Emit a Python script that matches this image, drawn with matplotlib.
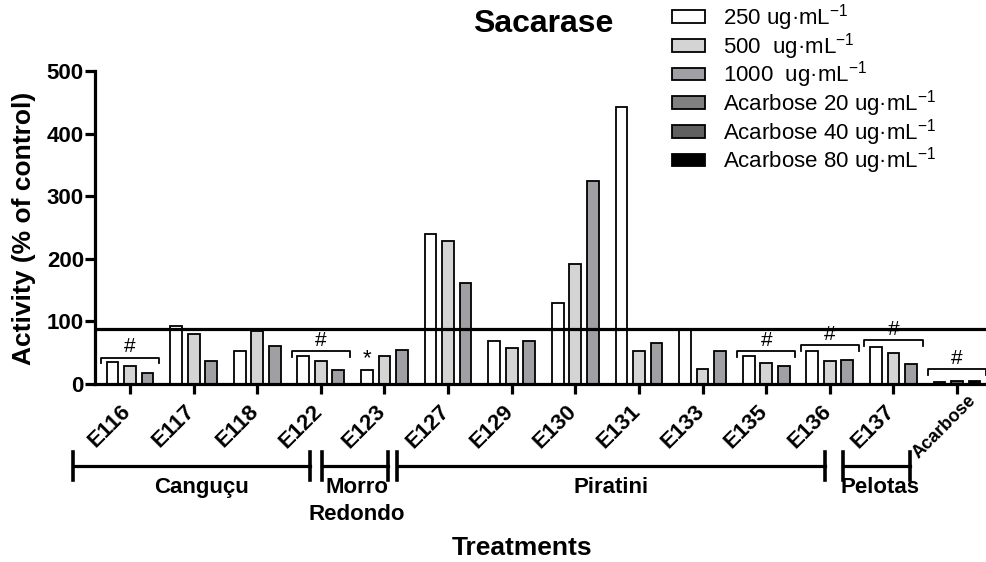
import numpy as np
import matplotlib.pyplot as plt
from matplotlib.transforms import blended_transform_factory, ScaledTranslation

# extracts tested (13) + the acarbose positive control
samples = ['E116', 'E117', 'E118', 'E122', 'E123', 'E127', 'E129',
           'E130', 'E131', 'E133', 'E135', 'E136', 'E137']
tick_labels = samples + ['Acarbose']

# activity, % of control
ext_250 = [35, 92, 52, 45, 22, 240, 68, 129, 443, 86, 45, 52, 59]
ext_500 = [29, 80, 85, 36, 45, 229, 58, 191, 53, 24, 34, 37, 49]
ext_1000 = [17, 36, 61, 22, 55, 161, 68, 324, 66, 53, 28, 39, 32]
acarbose_vals = [3, 5, 4]  # 20, 40, 80 ug/mL

control = 88

# '#' significance brackets: group index and bracket height
hash_groups = [0, 3, 10, 11, 12, 13]
hash_heights = [42, 52, 52, 62, 70, 24]
star_group = 4

# collection sites, spans given in group units
regions = ['Canguçu', 'Morro\nRedondo', 'Piratini', 'Pelotas']
region_start = [-0.9, 3.02, 4.2, 11.21]
region_end = [2.83, 4.06, 10.93, 12.26]
region_label_x = [1.13, 3.57, 7.56, 11.79]

legend_labels = ['250 ug·mL$^{-1}$', '500  ug·mL$^{-1}$', '1000  ug·mL$^{-1}$',
                 'Acarbose 20 ug·mL$^{-1}$', 'Acarbose 40 ug·mL$^{-1}$',
                 'Acarbose 80 ug·mL$^{-1}$']
colors = ['white', '#d4d4d4', '#a0a0a4', '#808080', '#606060', 'black']

plt.rcParams['font.family'] = ['Liberation Sans', 'DejaVu Sans']
plt.rcParams['mathtext.fontset'] = 'custom'
plt.rcParams['mathtext.rm'] = 'Liberation Sans'
plt.rcParams['mathtext.default'] = 'regular'

fig = plt.figure(figsize=(9.87, 5.62), dpi=100)
ax = fig.add_axes([95/987, 1 - 384/562, 1 - 95/987, (384 - 71)/562])

x = np.arange(len(samples))
w = 0.185
off = 0.275
ek = dict(edgecolor='black', linewidth=1.3, zorder=2)
bars = []
bars.append(ax.bar(x - off, ext_250, w, color=colors[0], **ek))
bars.append(ax.bar(x, ext_500, w, color=colors[1], **ek))
bars.append(ax.bar(x + off, ext_1000, w, color=colors[2], **ek))
xa = len(samples)
for i, v in enumerate(acarbose_vals):
    bars.append(ax.bar(xa + (i - 1)*off, v, w, color=colors[3 + i], **ek))

ax.axhline(control, color='black', lw=2.3, zorder=3)

# significance marks
for g, h in zip(hash_groups, hash_heights):
    ax.plot([g - 0.46, g - 0.46, g + 0.46, g + 0.46], [h - 9, h, h, h - 9],
            color='black', lw=1.3, zorder=3)
    ax.text(g, h + 2, '#', ha='center', va='bottom', fontsize=15)
ax.text(star_group - off, ext_250[star_group] + 1, '*', ha='center',
        va='bottom', fontsize=16)

ax.set_xlim(-0.55, 13.47)
ax.set_ylim(0, 500)
ax.set_yticks(range(0, 501, 100))
for s in ['top', 'right']:
    ax.spines[s].set_visible(False)
for s in ['left', 'bottom']:
    ax.spines[s].set_linewidth(2.3)
ax.tick_params(axis='both', width=2.3, length=7, labelsize=16)
ax.tick_params(axis='y', pad=1)
for t in ax.get_yticklabels():
    t.set_fontweight('bold')

ax.set_xticks(np.arange(len(tick_labels)))
ax.set_xticklabels(tick_labels, rotation=45, ha='center', va='center',
                   rotation_mode='anchor', fontweight='bold', fontsize=16)
shift = ScaledTranslation(-20/100, -28/100, fig.dpi_scale_trans)
for t in ax.get_xticklabels():
    t.set_transform(t.get_transform() + shift)
lab = ax.get_xticklabels()[-1]
lab.set_fontsize(13)
lab.set_transform(lab.get_transform()
                  + ScaledTranslation(7/100, 0, fig.dpi_scale_trans))

# site brackets under the axis
tr = blended_transform_factory(ax.transData, ax.transAxes)
ly = -0.263
cap = 0.045
for name, a, b, lx in zip(regions, region_start, region_end, region_label_x):
    ax.plot([a, b], [ly, ly], color='black', lw=2.3, transform=tr, clip_on=False)
    for xx in (a, b):
        ax.plot([xx, xx], [ly - cap, ly + cap], color='black', lw=2.6,
                transform=tr, clip_on=False)
    ax.text(lx, ly - 0.035, name, ha='center', va='top', fontsize=16,
            fontweight='bold', transform=tr, linespacing=1.35)

fig.text(24/987, 1 - 228/562, 'Activity (% of control)', rotation=90,
         ha='center', va='center', fontsize=19, fontweight='bold')
fig.text(522/987, 1 - 548/562, 'Treatments', ha='center', va='center',
         fontsize=19, fontweight='bold')
fig.text(543/987, 1 - 24/562, 'Sacarase', ha='center', va='center',
         fontsize=23, fontweight='bold')

fig.legend([b[0] for b in bars], legend_labels, loc='upper left',
           bbox_to_anchor=(672/987, 1 - 2/562), frameon=False, fontsize=16,
           handlelength=1.5, handleheight=0.5, handletextpad=0.8,
           labelspacing=-0.1, borderpad=0, borderaxespad=0)

fig.savefig('out.png', dpi=100)
